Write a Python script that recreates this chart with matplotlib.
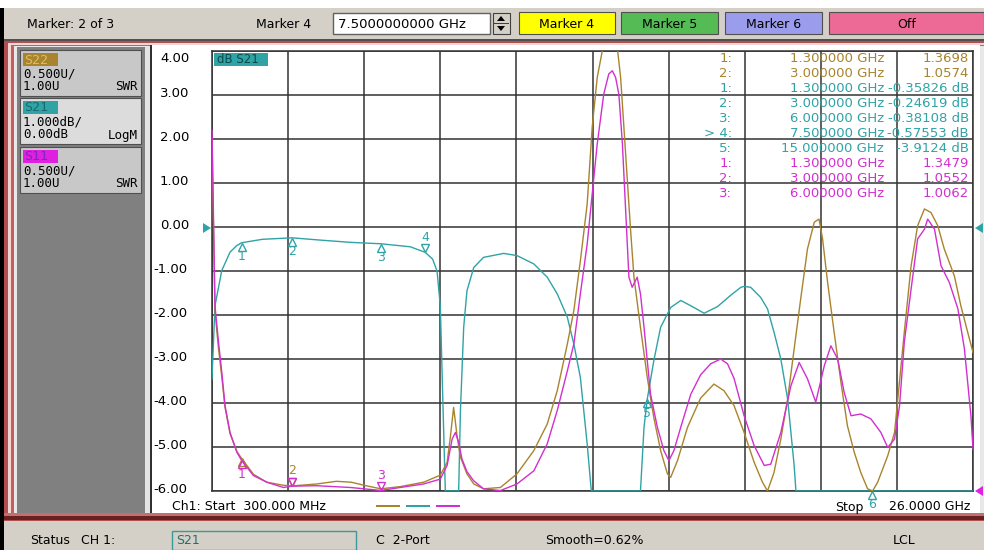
import matplotlib
matplotlib.use('Agg')
import numpy as np
import matplotlib.pyplot as plt
from matplotlib.patches import Rectangle, Polygon
from matplotlib.transforms import offset_copy, blended_transform_factory

W, H = 984, 550

# sweep 300 MHz .. 26 GHz (GHz)
f_start, f_stop = 0.3, 26.0

# S21, dB  (values that fall off-scale sit on the bottom line)
s21_f = [0.30, 0.40, 0.63, 0.91, 1.14, 1.30, 2.00, 3.00, 4.00, 5.00, 6.00, 7.00, 7.50,
         7.75, 7.90, 8.01, 8.07, 8.13, 8.18, 8.63, 8.69, 8.80, 8.91, 9.14, 9.47,
         10.15, 10.60, 11.17, 11.62, 11.96, 12.30, 12.52, 12.74, 12.97, 13.11, 14.77,
         14.89, 15.00, 15.22, 15.45, 15.79, 16.13, 16.47, 16.92, 17.37, 17.82, 18.16,
         18.27, 18.49, 18.83, 19.06, 19.28, 19.51, 19.74, 19.96, 20.02, 26.00]
s21_db = [-3.45, -1.79, -0.99, -0.57, -0.42, -0.358, -0.28, -0.246, -0.30, -0.35, -0.381, -0.45, -0.576,
          -0.73, -1.0, -1.79, -3.3, -4.8, -6.0, -6.0, -4.17, -2.28, -1.45, -0.92, -0.69,
          -0.60, -0.65, -0.84, -1.14, -1.52, -2.05, -2.66, -3.42, -4.93, -6.0, -6.0,
          -4.55, -3.91, -3.04, -2.28, -1.83, -1.67, -1.79, -1.96, -1.81, -1.55, -1.37,
          -1.35, -1.37, -1.60, -1.86, -2.39, -3.0, -3.91, -5.42, -6.0, -6.0]

# S11, SWR
s11_f = [0.30, 0.40, 0.51, 0.63, 0.74, 0.91, 1.14, 1.30, 1.70, 2.15,
         2.71, 3.00, 3.84, 4.97, 6.00, 6.66, 7.45, 8.01, 8.24, 8.41,
         8.52, 8.63, 8.74, 8.91, 9.14, 9.47, 10.04, 10.60, 11.17, 11.62,
         11.96, 12.30, 12.52, 12.74, 12.97, 13.14, 13.31, 13.53, 13.70, 13.82,
         13.93, 14.04, 14.16, 14.27, 14.38, 14.49, 14.66, 14.77, 14.89, 15.00,
         15.11, 15.34, 15.56, 15.73, 15.90, 16.13, 16.47, 16.80, 17.14, 17.48,
         17.71, 17.93, 18.27, 18.61, 18.95, 19.17, 19.51, 19.85, 20.13, 20.41,
         20.69, 20.98, 21.20, 21.43, 21.65, 21.88, 22.21, 22.55, 22.89, 23.12,
         23.35, 23.52, 23.68, 23.91, 24.13, 24.36, 24.47, 24.70, 24.92, 25.20,
         25.49, 25.71, 25.93, 26.00]
s11_swr = [5.10, 3.105, 2.725, 2.35, 1.97, 1.665, 1.44, 1.3479, 1.175, 1.10,
           1.04, 1.0552, 1.06, 1.04, 1.0062, 1.04, 1.08, 1.135, 1.29, 1.59,
           1.665, 1.555, 1.365, 1.22, 1.115, 1.025, 1.005, 1.08, 1.23, 1.535,
           1.915, 2.365, 2.67, 3.24, 3.805, 4.375, 4.945, 5.51, 5.74, 5.775,
           5.70, 5.51, 4.945, 4.185, 3.43, 3.315, 3.43, 3.24, 2.86, 2.48,
           2.10, 1.725, 1.46, 1.345, 1.46, 1.725, 2.10, 2.32, 2.445, 2.50,
           2.445, 2.28, 1.855, 1.515, 1.29, 1.305, 1.665, 2.195, 2.46, 2.275,
           2.01, 2.425, 2.65, 2.50, 2.12, 1.855, 1.875, 1.82, 1.665, 1.495,
           1.59, 1.97, 2.69, 3.295, 3.865, 3.975, 4.09, 3.975, 3.56, 3.37,
           3.07, 2.615, 1.855, 1.475]

# S22, SWR
s22_f = [0.30, 0.40, 0.51, 0.63, 0.74, 0.91, 1.14, 1.30, 1.70, 2.15,
         2.71, 3.00, 3.84, 4.50, 5.00, 5.50, 6.00, 6.66, 7.45, 8.01,
         8.24, 8.35, 8.46, 8.58, 8.69, 8.91, 9.14, 9.47, 10.04, 10.60,
         11.17, 11.62, 11.96, 12.30, 12.52, 12.74, 12.97, 13.14, 13.31, 13.48,
         13.65, 13.85, 14.00, 14.10, 14.21, 14.32, 14.43, 14.55, 14.77, 15.00,
         15.22, 15.45, 15.68, 15.79, 16.02, 16.36, 16.80, 17.25, 17.59, 17.93,
         18.27, 18.61, 18.89, 19.06, 19.28, 19.51, 19.74, 19.96, 20.18, 20.41,
         20.64, 20.80, 20.92, 21.09, 21.31, 21.54, 21.76, 21.99, 22.21, 22.44,
         22.61, 22.78, 23.12, 23.35, 23.46, 23.68, 23.91, 24.13, 24.36, 24.58,
         24.81, 25.03, 25.37, 25.59, 25.82, 26.00]
s22_swr = [5.0, 3.05, 2.65, 2.30, 1.95, 1.65, 1.45, 1.3698, 1.19, 1.10,
           1.065, 1.0574, 1.08, 1.11, 1.10, 1.06, 1.025, 1.05, 1.10, 1.18,
           1.325, 1.615, 1.95, 1.615, 1.385, 1.195, 1.08, 1.025, 1.04, 1.195,
           1.46, 1.76, 2.14, 2.67, 3.05, 3.615, 4.26, 5.135, 5.70, 6.0,
           6.3, 6.3, 6.0, 5.70, 5.135, 4.565, 3.995, 3.43, 2.86, 2.29,
           1.835, 1.46, 1.195, 1.155, 1.345, 1.725, 2.055, 2.215, 2.14, 1.97,
           1.665, 1.325, 1.10, 1.0, 1.21, 1.59, 2.045, 2.615, 3.18, 3.75,
           4.055, 4.09, 3.865, 3.37, 2.805, 2.235, 1.74, 1.44, 1.21, 1.025,
           1.0, 1.10, 1.40, 1.665, 2.045, 2.805, 3.56, 4.015, 4.205, 4.165,
           4.015, 3.75, 3.445, 3.105, 2.805, 2.575]

# markers
m21_f = [1.3, 3.0, 6.0, 7.5, 15.0]
m21_v = [-0.35826, -0.24619, -0.38108, -0.57553, -3.9124]
m21_6 = 22.6
m22_f = [1.3, 3.0]
m22_v = [1.3698, 1.0574]
m11_f = [1.3, 3.0, 6.0]
m11_v = [1.3479, 1.0552, 1.0062]

c22 = '#a8842c'
c21 = '#2fa3a6'
c11 = '#d22fd0'
ui = '#d4d0c8'

fig = plt.figure(figsize=(W / 100, H / 100), dpi=100)
fig.patch.set_facecolor(ui)


def box(x, y, w, h, fc, ec='none', lw=0, z=-5):
    r = Rectangle((x / W, 1 - (y + h) / H), w / W, h / H, transform=fig.transFigure,
                  facecolor=fc, edgecolor=ec, linewidth=lw, zorder=z)
    fig.add_artist(r)


def tri(pts, fc, z=5):
    p = Polygon([(x / W, 1 - y / H) for x, y in pts], closed=True, transform=fig.transFigure,
                facecolor=fc, edgecolor='none', zorder=z)
    fig.add_artist(p)


def txt(x, y, s, size=9, **kw):
    kw.setdefault('va', 'center')
    fig.text(x / W, 1 - y / H, s, fontsize=size, family='DejaVu Sans', **kw)


# window frame
box(0, 0, W, 8, 'white')
box(0, 8, 4, H - 8, 'black')
box(4, 39, W - 4, 2, '#505050')
box(4, 41, W - 4, 480, '#b05050')
box(8, 43, W - 8, 474, '#f2d4d4')
box(11, 45, W - 11, 470, '#c06060')
box(14, 46, W - 14, 467, '#e8e8e8')
box(4, 521, W - 4, 29, ui)

# top bar
txt(27, 24, 'Marker: 2 of 3')
txt(256, 24, 'Marker 4')
box(333, 13, 157, 21, 'white', '#606060', 1.0)
txt(338, 24, '7.5000000000 GHz', size=9.5)
box(493, 13, 17, 21, ui, '#404040', 0.8)
box(494, 23, 15, 1, '#404040', z=-4)
tri([(497, 21), (505, 21), (501, 16)], 'black')
tri([(497, 26), (505, 26), (501, 31)], 'black')
for x0, x1, col, lab in [(519, 615, '#ffff00', 'Marker 4'), (621, 718, '#55bb55', 'Marker 5'),
                         (725, 822, '#9c9cec', 'Marker 6'), (829, 984, '#ee6a96', 'Off')]:
    box(x0, 12, x1 - x0, 22, col, '#505050', 0.8)
    txt((x0 + x1) / 2, 24, lab, ha='center')

# left trace panel
box(17, 47, 128, 466, '#808080')
box(145, 47, 5, 466, '#e4e4e4')
box(150, 45, 2, 468, '#303030')
box(152, 45, 828, 468, 'white')
panels = [(50, 'S22', c22, '#e2b868', '0.500U/', '1.00U', 'SWR', '#c8c8c8'),
          (98, 'S21', c21, '#1a6a70', '1.000dB/', '0.00dB', 'LogM', '#dcdcdc'),
          (147, 'S11', '#e020e0', '#7a28b8', '0.500U/', '1.00U', 'SWR', '#c8c8c8')]
for y0, name, bg, fg, l1, l2, l3, pc in panels:
    box(20, y0, 121, 46, pc, '#505050', 0.8)
    box(23, y0 + 3, 35, 13, bg, z=-4)
    fig.text(24 / W, 1 - (y0 + 10) / H, name, fontsize=9.5, family='DejaVu Sans Mono',
             color=fg, va='center')
    fig.text(23 / W, 1 - (y0 + 24) / H, l1, fontsize=9, family='DejaVu Sans Mono', va='center')
    fig.text(23 / W, 1 - (y0 + 37) / H, l2, fontsize=9, family='DejaVu Sans Mono', va='center')
    fig.text(138 / W, 1 - (y0 + 37) / H, l3, fontsize=9, family='DejaVu Sans Mono',
             va='center', ha='right')

# bottom frame and status line
box(4, 513, W - 4, 3, '#c07070', z=-4)
box(4, 516, W - 4, 4, '#6a2020', z=-4)
txt(30, 541, 'Status')
txt(81, 541, 'CH 1:')
box(172, 531, 184, 19, ui, '#3a9a9a', 1.0, z=-4)
txt(176, 541, 'S21', color='#207070')
txt(376, 541, 'C  2-Port')
txt(545, 541, 'Smooth=0.62%')
txt(893, 541, 'LCL')

# plot area
ax = fig.add_axes([212 / W, 1 - 491 / H, 761 / W, 440 / H])
ax.set_zorder(1)
ax.patch.set_alpha(0)
ax.set_xlim(f_start, f_stop)
ax.set_ylim(-6, 4)
ax.set_xticks(np.linspace(f_start, f_stop, 11))
ax.set_yticks(np.arange(-6, 5))
ax.tick_params(length=0, labelleft=False, labelbottom=False)
ax.grid(True, color='#333333', lw=1.1)
for s in ax.spines.values():
    s.set_color('#333333')
    s.set_linewidth(1.1)

ax2 = ax.twinx()
ax2.set_ylim(1.0, 6.0)
ax2.axis('off')

ax2.plot(s22_f, s22_swr, color=c22, lw=1.0, zorder=3)
ax.plot(s21_f, s21_db, color=c21, lw=1.0, zorder=3)
ax2.plot(s11_f, s11_swr, color=c11, lw=1.0, zorder=4)

# marker symbols: apex on the trace
def mark(a, f, v, col, up, label, lab_off):
    dy = -4 if up else 4
    tr = offset_copy(a.transData, fig=fig, x=0, y=dy, units='dots')
    a.plot([f], [v], marker='^' if up else 'v', ms=6, mfc='none', mec=col, mew=1.0,
           transform=tr, clip_on=False, zorder=6)
    if label:
        a.annotate(label, (f, v), xytext=(0, lab_off), textcoords='offset pixels',
                   ha='center', va='center', color=col, fontsize=9, annotation_clip=False, zorder=6)


for i, (f, v) in enumerate(zip(m21_f, m21_v)):
    n = str(i + 1)
    if n == '4':
        mark(ax, f, v, c21, False, n, 15)
    else:
        mark(ax, f, v, c21, True, n, -14)
mark(ax, m21_6, -6.0, c21, True, '6', -14)
mark(ax2, m22_f[0], m22_v[0], c22, True, '', 0)
mark(ax2, m22_f[1], m22_v[1], c22, False, '2', 15)
mark(ax2, m11_f[0], m11_v[0], c11, True, '1', -14)
mark(ax2, m11_f[1], m11_v[1], c11, False, '', 0)
mark(ax2, m11_f[2], m11_v[2], c11, False, '3', 15)

# scale labels
ylab = blended_transform_factory(fig.transFigure, ax.transData)
for v in range(-6, 5):
    s = '%.2f' % v
    x = 153 if v < 0 else 160
    yy = v - 0.18 if v == 4 else v + 0.04
    ax.text(x / W, yy, s, transform=ylab, fontsize=9.5, family='DejaVu Sans',
            va='center', ha='left', clip_on=False)

# trace badge
box(214, 53, 54, 13, c21, z=2)
txt(217, 59.5, 'dB S21', size=8.5, color='#0e4a4a', zorder=3)

# reference position arrows
tri([(203, 223), (203, 233), (211, 228)], c21)
tri([(983, 223), (983, 233), (975, 228)], c21)
tri([(983, 486), (983, 496), (975, 491)], '#e020e0')

# marker readout table
rows = [('1:', m22_f[0], '%.5g' % m22_v[0], c22),
        ('2:', m22_f[1], '%.5g' % m22_v[1], c22)]
for i, (f, v) in enumerate(zip(m21_f, m21_v)):
    rows.append((('> ' if i == 3 else '') + '%d:' % (i + 1), f, '%.5g dB' % v, c21))
for i, (f, v) in enumerate(zip(m11_f, m11_v)):
    rows.append(('%d:' % (i + 1), f, '%.5g' % v, c11))
for i, (idx, f, val, col) in enumerate(rows):
    y = 59 + 14.9 * i
    txt(732, y, idx, size=9.5, ha='right', color=col, zorder=5)
    txt(884, y, '%.6f GHz' % f, size=9.5, ha='right', color=col, zorder=5)
    txt(969, y, val, size=9.5, ha='right', color=col, zorder=5)

# sweep annotation
txt(172, 507, 'Ch1: Start  300.000 MHz', size=9)
for x0, col in [(376, c22), (406, c21), (436, c11)]:
    box(x0, 505, 24, 2, col, z=2)
txt(835, 507, 'Stop', size=9)
txt(970, 507, '26.0000 GHz', size=9, ha='right')

fig.savefig('out.png', dpi=100, facecolor=fig.get_facecolor())
